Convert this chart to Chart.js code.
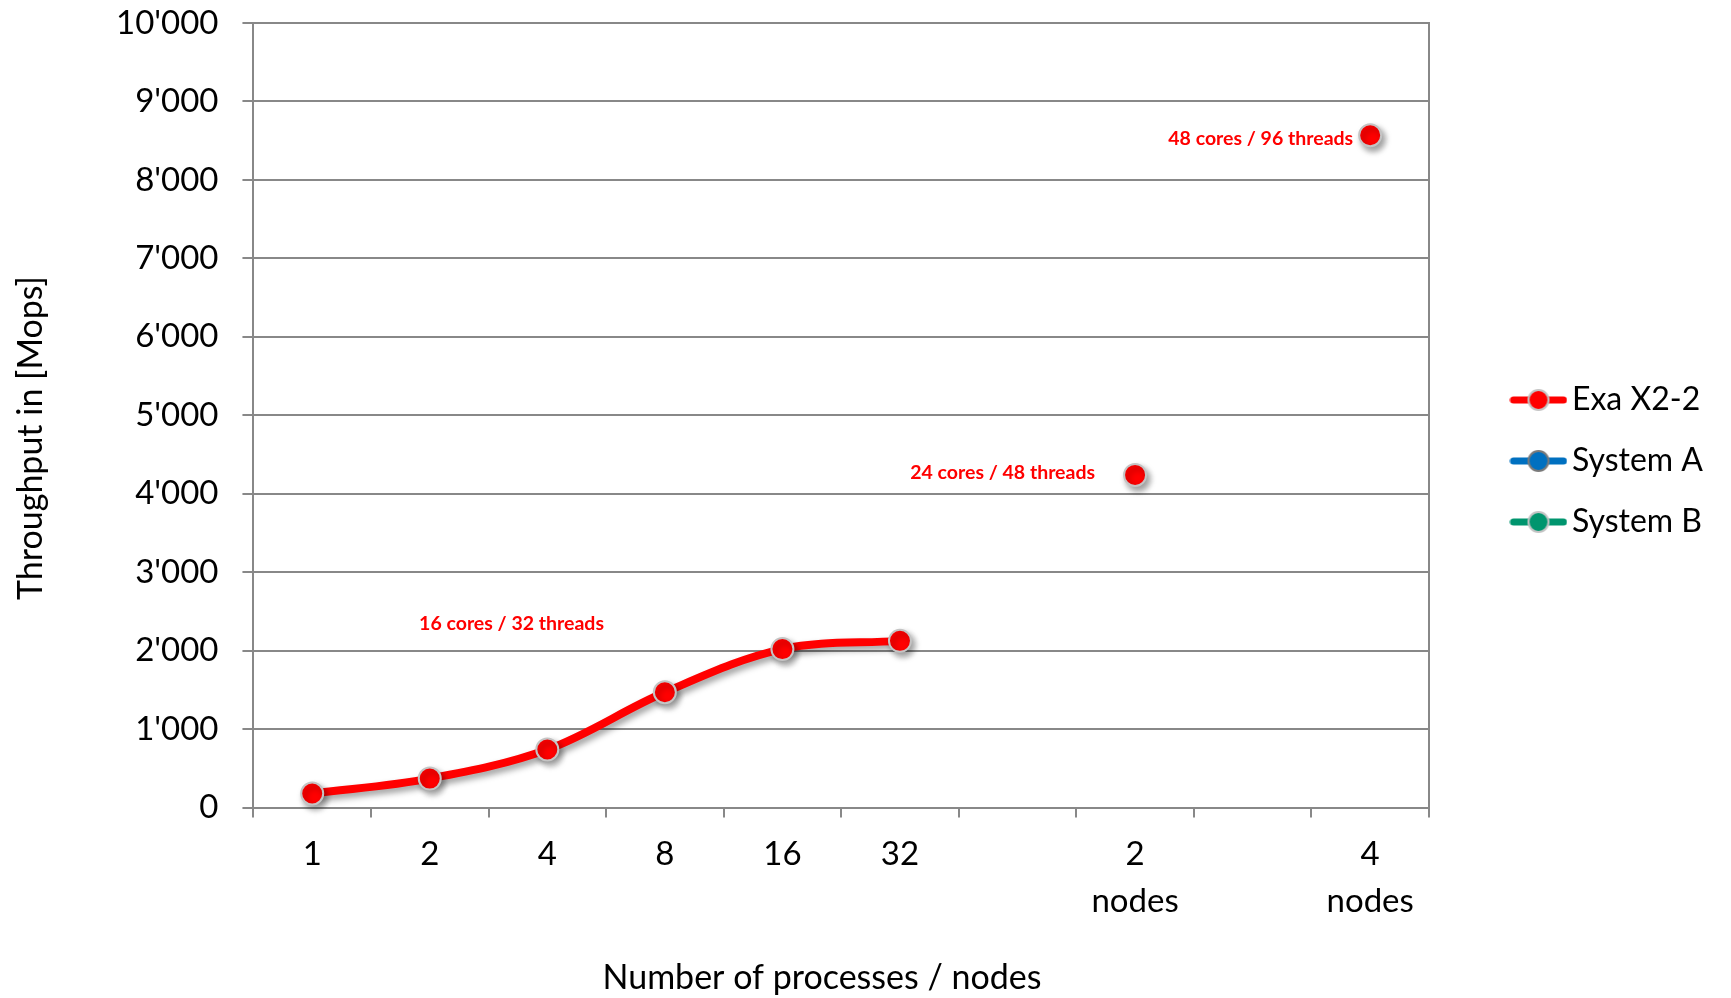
<!DOCTYPE html>
<html>
<head>
<meta charset="utf-8">
<title>Throughput scaling</title>
<script src="https://cdn.jsdelivr.net/npm/chart.js@4.4.1/dist/chart.umd.min.js"></script>
<style>
  html, body { margin: 0; padding: 0; background: #ffffff; }
  #wrap { width: 1731px; height: 998px; }
</style>
</head>
<body>
<div id="wrap"><canvas id="chart" width="1731" height="998"></canvas></div>
<script>
// Categories on the x axis: process counts, then node counts (blank slots keep the spacing)
const categories = ['1', '2', '4', '8', '16', '32', '', ['2', 'nodes'], '', ['4', 'nodes']];

// Throughput in Mops
const exaX22  = [180, 370, 740, 1470, 2020, 2125, null, 4240, null, 8570];
const systemA = [null, null, null, null, null, null, null, null, null, null];
const systemB = [null, null, null, null, null, null, null, null, null, null];

// Y axis range and step
const yMin = 0;
const yMax = 10000;
const yStep = 1000;

// Notes written next to some Exa X2-2 points
const pointNotes = [null, null, null, null, null, '16 cores / 32 threads', null, '24 cores / 48 threads', null, '48 cores / 96 threads'];

const GRID = '#888888';
const FONT = "Lato, 'Open Sans', sans-serif";

Chart.defaults.font.family = FONT;
Chart.defaults.color = '#000000';

function formatThousands(v) {
  return String(Math.round(v)).replace(/\B(?=(\d{3})+(?!\d))/g, "'");
}

// Legend marker: a short line with a dot in the middle
function legendMarker(color, ring) {
  const c = document.createElement('canvas');
  c.width = 58; c.height = 26;
  const g = c.getContext('2d');
  g.lineCap = 'round';
  g.strokeStyle = color;
  g.lineWidth = 7;
  g.beginPath(); g.moveTo(4, 13); g.lineTo(54, 13); g.stroke();
  g.beginPath(); g.arc(29, 13, 10, 0, Math.PI * 2);
  g.fillStyle = color; g.fill();
  g.lineWidth = 2; g.strokeStyle = ring; g.stroke();
  return c;
}

function series(label, data, color, ring) {
  return {
    label, data,
    borderColor: color, backgroundColor: color,
    borderWidth: 8,
    pointRadius: 11, pointHoverRadius: 11,
    pointBorderWidth: 2, pointBorderColor: ring,
    pointBackgroundColor: color,
    tension: 0.35, spanGaps: false, clip: false,
    marker: legendMarker(color, ring)
  };
}

// Soft drop shadow under lines and points
const shadowPlugin = {
  id: 'dropShadow',
  beforeDatasetDraw(chart) {
    const c = chart.ctx;
    c.save();
    c.shadowColor = 'rgba(0,0,0,0.38)';
    c.shadowBlur = 6;
    c.shadowOffsetX = 3;
    c.shadowOffsetY = 4;
  },
  afterDatasetDraw(chart) { chart.ctx.restore(); }
};

// Red notes beside points, right-aligned to the left of each point
const noteOffsets = { 5: [-296, -17], 7: [-40, -2], 9: [-17, 4] };
const notesPlugin = {
  id: 'pointNotes',
  afterDatasetsDraw(chart) {
    const meta = chart.getDatasetMeta(0);
    const c = chart.ctx;
    c.save();
    c.font = 'bold 19.5px ' + FONT;
    c.fillStyle = '#ff0000';
    c.textAlign = 'right';
    c.textBaseline = 'middle';
    pointNotes.forEach((text, i) => {
      if (!text || !meta.data[i]) return;
      const off = noteOffsets[i] || [-20, 0];
      const p = meta.data[i];
      c.fillText(text, p.x + off[0], p.y + off[1]);
    });
    c.restore();
  }
};

// Axis titles
const axisTitles = {
  id: 'axisTitles',
  afterDraw(chart) {
    const c = chart.ctx;
    c.save();
    c.font = '34px ' + FONT;
    c.fillStyle = '#000000';
    c.textAlign = 'center';
    c.textBaseline = 'middle';
    c.fillText('Number of processes / nodes', 822, 978);
    c.translate(31, 438);
    c.rotate(-Math.PI / 2);
    c.fillText('Throughput in [Mops]', 0, 0);
    c.restore();
  }
};

new Chart(document.getElementById('chart'), {
  type: 'line',
  data: {
    labels: categories,
    datasets: [
      series('Exa X2-2', exaX22, '#ff0000', '#c4c4c4'),
      series('System A', systemA, '#0070c0', '#7a7a7a'),
      series('System B', systemB, '#00956e', '#c4c4c4')
    ]
  },
  options: {
    responsive: false,
    animation: false,
    devicePixelRatio: 1,
    layout: { padding: { left: 92, right: 18, top: 23, bottom: 60 } },
    plugins: {
      tooltip: { enabled: false },
      legend: {
        position: 'right',
        align: 'start',
        title: { display: true, text: ' ', font: { size: 10 }, padding: { top: 320, bottom: 0 } },
        labels: {
          usePointStyle: true,
          pointStyleWidth: 35,
          padding: 29,
          color: '#000000',
          font: { size: 32 },
          generateLabels(chart) {
            return chart.data.datasets.map((ds, i) => ({
              text: ds.label,
              pointStyle: ds.marker,
              datasetIndex: i,
              hidden: false,
              lineWidth: 0,
              fillStyle: ds.borderColor,
              strokeStyle: ds.borderColor,
              fontColor: '#000000'
            }));
          }
        }
      }
    },
    scales: {
      x: {
        type: 'category',
        offset: true,
        grid: { offset: true, drawOnChartArea: false, drawTicks: true, tickLength: 10, color: GRID, lineWidth: 2 },
        border: { color: GRID, width: 2 },
        ticks: { autoSkip: false, maxRotation: 0, minRotation: 0, padding: 14, font: { size: 33, lineHeight: 1.4 } }
      },
      y: {
        min: yMin, max: yMax,
        grid: { color: GRID, lineWidth: 2, drawTicks: true, tickLength: 11 },
        border: { color: GRID, width: 2 },
        ticks: { stepSize: yStep, padding: 24, font: { size: 33 }, callback: v => formatThousands(v) },
        // the top label may overhang the plot area; the layout top padding covers it
        afterFit(scale) { scale.paddingTop = 0; }
      },
      yRight: {
        position: 'right',
        min: yMin, max: yMax,
        grid: { display: false, drawTicks: false },
        ticks: { display: false },
        border: { display: true, color: GRID, width: 2 },
        afterFit(scale) { scale.width = 63; }
      }
    }
  },
  plugins: [shadowPlugin, notesPlugin, axisTitles]
});
</script>
</body>
</html>
